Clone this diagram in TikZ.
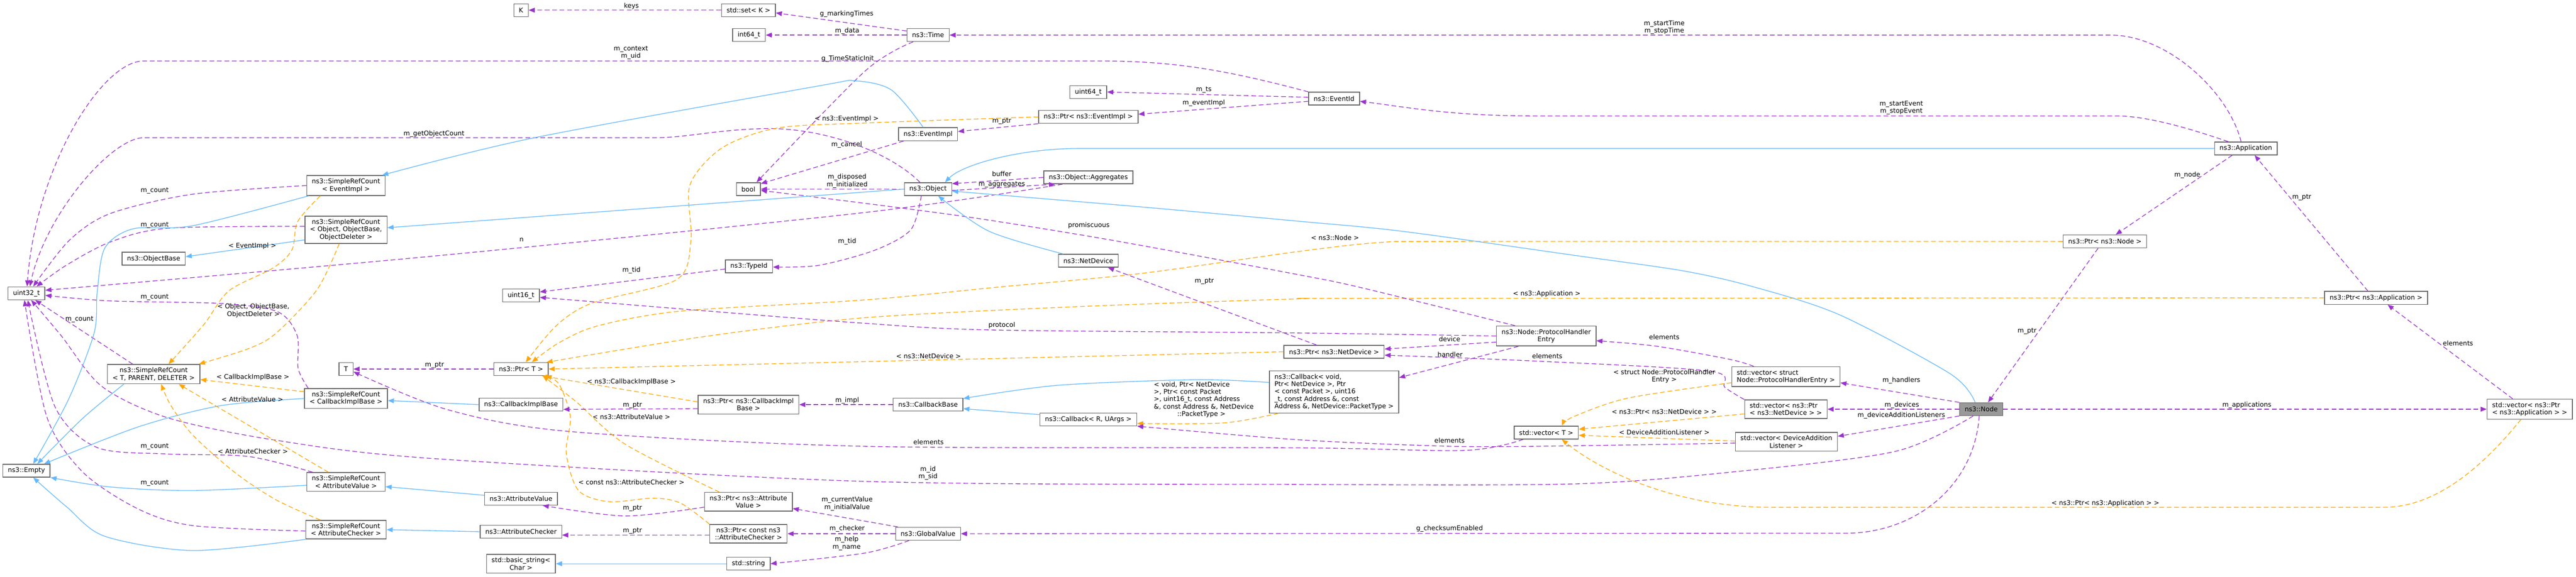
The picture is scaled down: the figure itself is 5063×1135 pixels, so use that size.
\documentclass[tikz,border=0pt]{standalone}
\usepackage{fontspec}
\setmainfont{DejaVu Sans}
\usetikzlibrary{arrows.meta}
\definecolor{memc}{HTML}{9A32CD}
\definecolor{inhc}{HTML}{63B8FF}
\definecolor{tplc}{HTML}{FFA500}
\definecolor{boxline}{HTML}{666666}
\definecolor{rootfill}{HTML}{999999}
\tikzset{
    cls/.style={draw=boxline, line width=1.1pt, fill=white, inner xsep=7.5pt, inner ysep=4.6pt, minimum height=19pt, align=center},
    rootcls/.style={cls, fill=rootfill},
    mem/.style={memc, line width=1pt, dash pattern=on 7pt off 4pt, -{Triangle[length=9pt,width=7pt]}},
    inh/.style={inhc, line width=1pt, -{Triangle[length=9pt,width=7pt]}},
    tpl/.style={tplc, line width=1pt, dash pattern=on 7pt off 4pt, -{Triangle[length=9pt,width=7pt]}},
    lbl/.style={inner sep=0pt, align=center}
}
\begin{document}
\begin{tikzpicture}[x=0.75pt, y=-0.75pt, font=\fontsize{9.6}{10.9}\selectfont]
    \useasboundingbox (0,0) rectangle (5063,1135);

    % Classes
    \node[cls] (u32) at (52,577) {uint32\_t};
    \node[cls] (empty) at (52,926) {ns3::Empty};
    \node[cls] (objBase) at (302,509) {ns3::ObjectBase};
    \node[cls] (srcT) at (302,736) {ns3::SimpleRefCount\\< T, PARENT, DELETER >};
    \node[cls] (srcEv) at (680,365) {ns3::SimpleRefCount\\< EventImpl >};
    \node[cls] (srcObj) at (680,452) {ns3::SimpleRefCount\\< Object, ObjectBase,\\ObjectDeleter >};
    \node[cls] (tT) at (680,726) {T};
    \node[cls] (srcCb) at (680,784) {ns3::SimpleRefCount\\< CallbackImplBase >};
    \node[cls] (srcAv) at (680,948) {ns3::SimpleRefCount\\< AttributeValue >};
    \node[cls] (srcAc) at (680,1042) {ns3::SimpleRefCount\\< AttributeChecker >};
    \node[cls] (kK) at (1024,20) {K};
    \node[cls] (u16) at (1024,581) {uint16\_t};
    \node[cls] (ptrT) at (1024,726) {ns3::Ptr< T >};
    \node[cls] (cbImpl) at (1024,796) {ns3::CallbackImplBase};
    \node[cls] (attVal) at (1024,981) {ns3::AttributeValue};
    \node[cls] (attChk) at (1024,1046) {ns3::AttributeChecker};
    \node[cls] (bstr) at (1024,1109) {std::basic\_string<\\Char >};
    \node[cls] (set) at (1471,20) {std::set< K >};
    \node[cls] (i64) at (1472,69) {int64\_t};
    \node[cls] (bool) at (1471,372) {bool};
    \node[cls] (typeId) at (1472,524) {ns3::TypeId};
    \node[cls] (ptrCb) at (1471,796) {ns3::Ptr< ns3::CallbackImpl\\Base >};
    \node[cls] (ptrAv) at (1471,987) {ns3::Ptr< ns3::Attribute\\Value >};
    \node[cls] (ptrAc) at (1471,1050) {ns3::Ptr< const ns3\\::AttributeChecker >};
    \node[cls] (str) at (1471,1109) {std::string};
    \node[cls] (time) at (1824,69) {ns3::Time};
    \node[cls] (evImpl) at (1824,264) {ns3::EventImpl};
    \node[cls] (obj) at (1824,372) {ns3::Object};
    \node[cls] (cbBase) at (1824,796) {ns3::CallbackBase};
    \node[cls] (gv) at (1824,1050) {ns3::GlobalValue};
    \node[cls] (u64) at (2139,181) {uint64\_t};
    \node[cls] (ptrEv) at (2139,230) {ns3::Ptr< ns3::EventImpl >};
    \node[cls] (aggr) at (2139,349) {ns3::Object::Aggregates};
    \node[cls] (netDev) at (2139,513) {ns3::NetDevice};
    \node[cls] (cbRU) at (2139,825) {ns3::Callback< R, UArgs >};
    \node[cls] (evId) at (2622,194) {ns3::EventId};
    \node[cls] (ptrNd) at (2622,692) {ns3::Ptr< ns3::NetDevice >};
    \node[cls, align=left] (cbVoid) at (2622,771) {ns3::Callback< void,\\Ptr< NetDevice >, Ptr\\< const Packet >, uint16\\\_t, const Address \&, const\\Address \&, NetDevice::PacketType >};
    \node[cls] (phe) at (3039,661) {ns3::Node::ProtocolHandler\\Entry};
    \node[cls] (vecT) at (3039,851) {std::vector< T >};
    \node[cls, align=left] (vecPhe) at (3510,741) {std::vector< struct\\Node::ProtocolHandlerEntry >};
    \node[cls, align=left] (vecNd) at (3510,805) {std::vector< ns3::Ptr\\< ns3::NetDevice > >};
    \node[cls] (vecDal) at (3511,869) {std::vector< DeviceAddition\\Listener >};
    \node[rootcls] (nsNode) at (3894,805) {ns3::Node};
    \node[cls] (ptrNode) at (4137,475) {ns3::Ptr< ns3::Node >};
    \node[cls] (app) at (4414,292) {ns3::Application};
    \node[cls] (ptrApp) at (4670,586) {ns3::Ptr< ns3::Application >};
    \node[cls, align=left] (vecApp) at (4972,805) {std::vector< ns3::Ptr\\< ns3::Application > >};

    % uint32_t
    \draw[mem] (evId.north west) .. controls (2400,135) and (2300,120) .. (2161,120) -- (282,120) .. controls (200,120) and (70,330) .. ([xshift=1pt]u32.north);
    \draw[mem] ([xshift=-12pt]obj.north) .. controls (1750,300) and (1620,250) .. (1500,253) .. controls (1400,256) and (1350,271) .. (1284,271) -- (282,271) .. controls (220,271) and (90,420) .. ([xshift=5pt]u32.north);
    \draw[mem] plot[smooth] coordinates {(srcEv.west) (379,382) (217,420) (136,473) ([xshift=10pt]u32.north)};
    \draw[mem] plot[smooth] coordinates {([yshift=5pt]srcObj.west) (330,449) (217,476) (130,522) ([xshift=15pt]u32.north)};
    \draw[mem] plot[smooth] coordinates {([xshift=-38pt]aggr.south) (1700,418) (850,504) ([yshift=4.5pt]u32.east)};
    \draw[mem] plot[smooth] coordinates {([xshift=6pt]srcCb.north west) (586,725) (584,660) (545,613) (434,597) (217,592) ([yshift=-3pt]u32.east)};
    \draw[mem] ([xshift=-31pt]srcT.north) -- ([xshift=13pt]u32.south);
    \draw[mem] plot[smooth] coordinates {([xshift=-12pt]nsNode.south) (3725,888) (3400,929) (3092,952) (2550,953) (1700,947) (850,902) (542,866) (330,822) (200,760) (120,660) ([xshift=7pt]u32.south)};
    \draw[mem] plot[smooth] coordinates {([xshift=9pt]srcAv.north west) (488,898) (325,893) (190,880) (108,800) ([xshift=2pt]u32.south)};
    \draw[mem] plot[smooth] coordinates {([yshift=-2pt]srcAc.west) (379,1034) (271,1001) (163,929) (92,820) ([xshift=-3pt]u32.south)};

    % ns3::Empty and ObjectBase
    \draw[inh] plot[smooth] coordinates {([xshift=3pt]srcEv.south west) (379,444) (262,450) (206,488) (191,575) (185,655) (135,785) ([xshift=10pt]empty.north)};
    \draw[inh] plot[smooth] coordinates {([xshift=-44pt]srcT.south) (168,818) (105,880) ([xshift=16pt]empty.north)};
    \draw[inh] plot[smooth] coordinates {(srcCb.west) (434,798) (271,840) ([xshift=26pt]empty.north)};
    \draw[inh] plot[smooth] coordinates {([yshift=-5pt]srcAv.west) (379,965) (217,958) (empty.south east)};
    \draw[inh] plot[smooth] coordinates {(srcAc.south west) (379,1083) (206,1055) (132,998) ([xshift=10pt]empty.south)};
    \draw[inh] ([yshift=-15pt]srcObj.west) -- ([yshift=3pt]objBase.east);

    % SimpleRefCount templates
    \draw[tpl] plot[smooth] coordinates {([xshift=-38pt]srcEv.south) (585,436) (574,491) (537,527) (450,572) (401,638) ([xshift=22pt]srcT.north)};
    \draw[tpl] plot[smooth] coordinates {([xshift=-10pt]srcObj.south) (623,570) (542,656) (488,686) ([xshift=-2pt]srcT.north east)};
    \draw[tpl] ([yshift=10pt]srcCb.west) -- ([yshift=-8pt]srcT.east);
    \draw[tpl] ([xshift=-26pt]srcAv.north) -- ([xshift=37pt]srcT.south);
    \draw[tpl] plot[smooth] coordinates {([xshift=-38pt]srcAc.north) (542,983) (461,929) (379,856) (336,798) ([xshift=11pt]srcT.south)};

    % T
    \draw[mem] (ptrT.west) -- (tT.east);
    \draw[mem] plot[smooth] coordinates {([xshift=-34pt]vecT.south) (2880,886) (2550,881) (1700,878) (1121,849) (880,806) ([yshift=-4pt]tT.east)};

    % Ptr templates
    \draw[tpl] plot[smooth] coordinates {(ptrEv.west) (1700,242) (1527,252) (1419,291) (1356,364) (1358,473) (1330,550) (1164,596) (1094,640) ([xshift=7pt]ptrT.north)};
    \draw[tpl] plot[smooth] coordinates {(ptrNode.west) (2875,475) (2713,477) (2550,495) (2242,538) (1960,565) (1700,590) (1338,612) (1175,641) (1099,674) ([xshift=16pt]ptrT.north)};
    \draw[tpl] plot[smooth] coordinates {(ptrApp.west) (2700,587) (2550,588) (2100,604) (1700,625) (1392,661) ([xshift=-3pt]ptrT.north east)};
    \draw[tpl] (ptrNd.west) -- (ptrT.east);
    \draw[tpl] ([yshift=4pt]ptrCb.west) -- ([xshift=-10pt]ptrT.south east);
    \draw[tpl] plot[smooth] coordinates {([xshift=-43pt]ptrAv.north) (1229,874) (1132,790) ([xshift=32pt]ptrT.south)};
    \draw[tpl] plot[smooth] coordinates {(ptrAc.north west) (1338,990) (1284,980) (1197,987) (1137,965) (1113,892) (1121,820) (1099,756) ([xshift=36pt]ptrT.south)};

    % Ptr members and bases
    \draw[mem] ([yshift=-6pt]ptrCb.west) -- ([yshift=-7pt]cbImpl.east);
    \draw[inh] (cbImpl.west) -- ([yshift=-3pt]srcCb.east);
    \draw[mem] plot[smooth] coordinates {([yshift=-8pt]ptrAv.west) (1229,1015) ([xshift=32pt]attVal.south)};
    \draw[inh] ([yshift=5pt]attVal.west) -- ([yshift=-7pt]srcAv.east);
    \draw[mem] ([yshift=-2pt]ptrAc.west) -- ([yshift=-5pt]attChk.east);
    \draw[inh] (attChk.west) -- (srcAc.east);
    \draw[inh] (str.west) -- (bstr.east);

    % Time, bool, TypeId
    \draw[mem] (set.west) -- (kK.east);
    \draw[mem] ([yshift=6pt]time.west) -- ([yshift=-4pt]set.east);
    \draw[mem] (time.west) -- (i64.east);
    \draw[mem] plot[smooth] coordinates {([xshift=-22pt]time.south) (1700,140) ([xshift=12pt]bool.north)};
    \draw[mem] ([xshift=-36pt]evImpl.south) -- ([yshift=-2pt]bool.north east);
    \draw[mem] (obj.west) -- (bool.east);
    \draw[mem] plot[smooth] coordinates {([xshift=-46pt]phe.north) (2680,567) (2550,540) (2188,473) (1917,429) (1700,400) ([yshift=-2pt]bool.east)};
    \draw[mem] plot[smooth] coordinates {([xshift=-10pt]obj.south) (1790,452) (1720,492) (1609,522) ([yshift=-1pt]typeId.east)};
    \draw[mem] ([yshift=-4pt]typeId.west) -- ([yshift=5pt]u16.east);
    \draw[mem] plot[smooth] coordinates {(phe.west) (2550,655) (1944,649) (1700,636) (1392,612) ([yshift=-3pt]u16.east)};

    % Events
    \draw[mem] ([xshift=-7pt]app.north) .. controls (4380,180) and (4260,69) .. (4148,69) -- (time.east);
    \draw[mem] ([xshift=-26pt]app.north) .. controls (4330,262) and (4230,228) .. (4159,228) -- (3011,228) .. controls (2850,228) and (2760,210) .. ([yshift=-4pt]evId.east);
    \draw[mem] ([yshift=2pt]evId.west) -- (u64.east);
    \draw[mem] ([yshift=-4pt]evId.west) -- ([yshift=4pt]ptrEv.east);
    \draw[mem] (ptrEv.south west) -- ([yshift=4pt]evImpl.east);
    \draw[inh] plot[smooth] coordinates {([xshift=-7pt]evImpl.north) (1752,177) (1680,159) (1609,169) (1050,271) ([xshift=-5pt]srcEv.north east)};

    % Object
    \draw[inh] (obj.west) -- ([yshift=3pt]srcObj.east);
    \draw[mem] (aggr.west) -- ([yshift=8pt]obj.east);
    \draw[mem] ([yshift=-2pt]obj.east) -- ([xshift=-49pt]aggr.south);
    \draw[inh] plot[smooth] coordinates {([xshift=-37pt]netDev.north) (1944,455) ([xshift=15pt]obj.south)};
    \draw[inh] (app.west) -- (2123,292) .. controls (2000,292) and (1890,325) .. ([xshift=25pt]obj.north);
    \draw[inh] plot[smooth] coordinates {([xshift=-9pt]nsNode.north) (3834,736) (3617,620) (3449,565) (3309,533) (3092,502) (2756,455) (2550,435) (2242,407) ([yshift=-3pt]obj.east)};
    \draw[mem] ([xshift=-26pt]ptrNd.north) -- ([xshift=29pt]netDev.south);

    % Callbacks
    \draw[inh] plot[smooth] coordinates {([yshift=14pt]cbVoid.west) (2350,747) (2079,758) ([yshift=9pt]cbBase.east)};
    \draw[inh] ([yshift=7pt]cbRU.west) -- ([yshift=-6pt]cbBase.east);
    \draw[tpl] plot[smooth] coordinates {([xshift=-82pt]cbVoid.south) (2405,832) ([yshift=4pt]cbRU.south east)};
    \draw[mem] (cbBase.west) -- (ptrCb.east);
    \draw[mem] plot[smooth] coordinates {([yshift=-2pt]vecDal.west) (3092,877) (2855,878) (2550,865) (cbRU.south east)};

    % GlobalValue
    \draw[mem] ([xshift=4pt]gv.north west) -- ([yshift=-10pt]ptrAv.east);
    \draw[mem] (gv.west) -- (ptrAc.east);
    \draw[mem] plot[smooth] coordinates {([xshift=-28pt]gv.south) (1700,1088) (str.east)};
    \draw[mem] ([xshift=-3pt]nsNode.south) .. controls (3880,960) and (3760,1049) .. (3628,1049) -- (gv.east);

    % ProtocolHandlerEntry
    \draw[mem] ([xshift=-41pt]phe.south) -- ([yshift=21pt]cbVoid.east);
    \draw[mem] ([yshift=-9pt]phe.west) -- ([yshift=4pt]ptrNd.east);
    \draw[mem] plot[smooth] coordinates {(vecNd.north west) (3390,762) (3360,730) (3011,710) ([yshift=-5pt]ptrNd.east)};
    \draw[mem] plot[smooth] coordinates {([xshift=33pt]vecPhe.north west) (3400,707) (3255,681) ([yshift=-7pt]phe.east)};

    % std::vector templates
    \draw[tpl] plot[smooth] coordinates {([yshift=-9pt]vecPhe.west) (3200,783) (3092,820) ([xshift=23pt]vecT.north)};
    \draw[tpl] ([yshift=-7pt]vecNd.west) -- ([yshift=5pt]vecT.east);
    \draw[tpl] ([yshift=1pt]vecDal.west) -- ([yshift=-4pt]vecT.east);
    \draw[tpl] ([xshift=-13pt]vecApp.south) .. controls (4870,930) and (4780,998) .. (4685,998) -- (3481,998) .. controls (3300,998) and (3150,930) .. ([xshift=23pt]vecT.south);

    % Node
    \draw[mem] (nsNode.north west) -- ([yshift=-9pt]vecPhe.east);
    \draw[mem] (nsNode.west) -- (vecNd.east);
    \draw[mem] ([yshift=-10pt]nsNode.west) -- ([yshift=8pt]vecDal.east);
    \draw[mem] ([xshift=-10pt]ptrNode.south) -- ([xshift=10pt]nsNode.north);
    \draw[mem] ([xshift=-20pt]app.south) -- ([xshift=16pt]ptrNode.north);
    \draw[mem] ([xshift=-12pt]ptrApp.north) -- ([xshift=13pt]app.south);
    \draw[mem] ([xshift=-25pt]vecApp.north) -- ([xshift=17pt]ptrApp.south);
    \draw[mem] (nsNode.east) -- (vecApp.west);

    % Labels
    \foreach \y/\n in {375/1,443/2,585/3,878/5,950/6}
        \node[lbl] (lCount\n) at (304,\y) {m\_count};
    \node[lbl] (lCount4) at (156,628) {m\_count};
    \node[lbl] (lKeys) at (1241,12) {keys};
    \node[lbl] (lMarking) at (1664,28) {g\_markingTimes};
    \node[lbl] (lData) at (1665,61) {m\_data};
    \node[lbl] (lCtx) at (1240,104) {m\_context\\m\_uid};
    \node[lbl] (lStatic) at (1666,116) {g\_TimeStaticInit};
    \node[lbl] (lStartTime) at (3271,54) {m\_startTime\\m\_stopTime};
    \node[lbl] (lTs) at (2366,177) {m\_ts};
    \node[lbl] (lEvImplM) at (2366,203) {m\_eventImpl};
    \node[lbl] (lStartEv) at (3737,212) {m\_startEvent\\m\_stopEvent};
    \node[lbl] (lEvTpl) at (1664,234) {< ns3::EventImpl >};
    \node[lbl] (lPtrEv) at (1969,239) {m\_ptr};
    \node[lbl] (lGetObj) at (853,263) {m\_getObjectCount};
    \node[lbl] (lCancel) at (1664,285) {m\_cancel};
    \node[lbl] (lBuffer) at (1969,342) {buffer};
    \node[lbl] (lNodeM) at (4299,344) {m\_node};
    \node[lbl] (lDisposed) at (1665,356) {m\_disposed\\m\_initialized};
    \node[lbl] (lAggr) at (1969,363) {m\_aggregates};
    \node[lbl] (lPtrApp) at (4524,388) {m\_ptr};
    \node[lbl] (lPromisc) at (2140,444) {promiscuous};
    \node[lbl] (lNodeTpl) at (2624,468) {< ns3::Node >};
    \node[lbl] (lN) at (1025,472) {n};
    \node[lbl] (lTid1) at (1665,475) {m\_tid};
    \node[lbl] (lEvSrcTpl) at (496,484) {< EventImpl >};
    \node[lbl] (lTid2) at (1241,532) {m\_tid};
    \node[lbl] (lPtrNd) at (2367,553) {m\_ptr};
    \node[lbl] (lAppTpl) at (3040,578) {< ns3::Application >};
    \node[lbl] (lObjTpl) at (498,611) {< Object, ObjectBase,\\ObjectDeleter >};
    \node[lbl] (lProto) at (1969,640) {protocol};
    \node[lbl] (lPtrNode) at (3984,652) {m\_ptr};
    \node[lbl] (lElemsPhe) at (3271,663) {elements};
    \node[lbl] (lDevice) at (2849,667) {device};
    \node[lbl] (lElemsApp) at (4831,675) {elements};
    \node[lbl] (lHandler) at (2850,697) {handler};
    \node[lbl] (lNdTpl) at (1825,700) {< ns3::NetDevice >};
    \node[lbl] (lElemsNd) at (3041,701) {elements};
    \node[lbl] (lPtrT) at (854,718) {m\_ptr};
    \node[lbl] (lCbSrcTpl) at (497,742) {< CallbackImplBase >};
    \node[lbl] (lPheTpl) at (3271,740) {< struct Node::ProtocolHandler\\Entry >};
    \node[lbl] (lHandlers) at (3737,748) {m\_handlers};
    \node[lbl] (lCbTpl) at (1241,751) {< ns3::CallbackImplBase >};
    \node[lbl, align=left] (lVoidTpl) at (2366,786) {< void, Ptr< NetDevice\\>, Ptr< const Packet\\>, uint16\_t, const Address\\\&, const Address \&, NetDevice\\\hspace*{3.6em}::PacketType >};
    \node[lbl] (lAvSrcTpl) at (496,786) {< AttributeValue >};
    \node[lbl] (lImpl) at (1665,788) {m\_impl};
    \node[lbl] (lPtrCb) at (1243,797) {m\_ptr};
    \node[lbl] (lDevices) at (3738,797) {m\_devices};
    \node[lbl] (lApps) at (4416,797) {m\_applications};
    \node[lbl] (lNdVecTpl) at (3271,810) {< ns3::Ptr< ns3::NetDevice > >};
    \node[lbl] (lDal) at (3737,817) {m\_deviceAdditionListeners};
    \node[lbl] (lAvTpl) at (1241,820) {< ns3::AttributeValue >};
    \node[lbl] (lDalTpl) at (3271,850) {< DeviceAdditionListener >};
    \node[lbl] (lElemsT) at (1825,870) {elements};
    \node[lbl] (lElemsDal) at (2849,867) {elements};
    \node[lbl] (lAcSrcTpl) at (497,888) {< AttributeChecker >};
    \node[lbl] (lId) at (1824,931) {m\_id\\m\_sid};
    \node[lbl] (lAcTpl) at (1241,949) {< const ns3::AttributeChecker >};
    \node[lbl] (lAppVecTpl) at (4138,990) {< ns3::Ptr< ns3::Application > >};
    \node[lbl] (lCurVal) at (1665,991) {m\_currentValue\\m\_initialValue};
    \node[lbl] (lPtrAv) at (1243,1000) {m\_ptr};
    \node[lbl] (lChecker) at (1665,1040) {m\_checker};
    \node[lbl] (lCsum) at (2849,1040) {g\_checksumEnabled};
    \node[lbl] (lPtrAc) at (1243,1045) {m\_ptr};
    \node[lbl] (lHelp) at (1664,1069) {m\_help\\m\_name};

\end{tikzpicture}
\end{document}
